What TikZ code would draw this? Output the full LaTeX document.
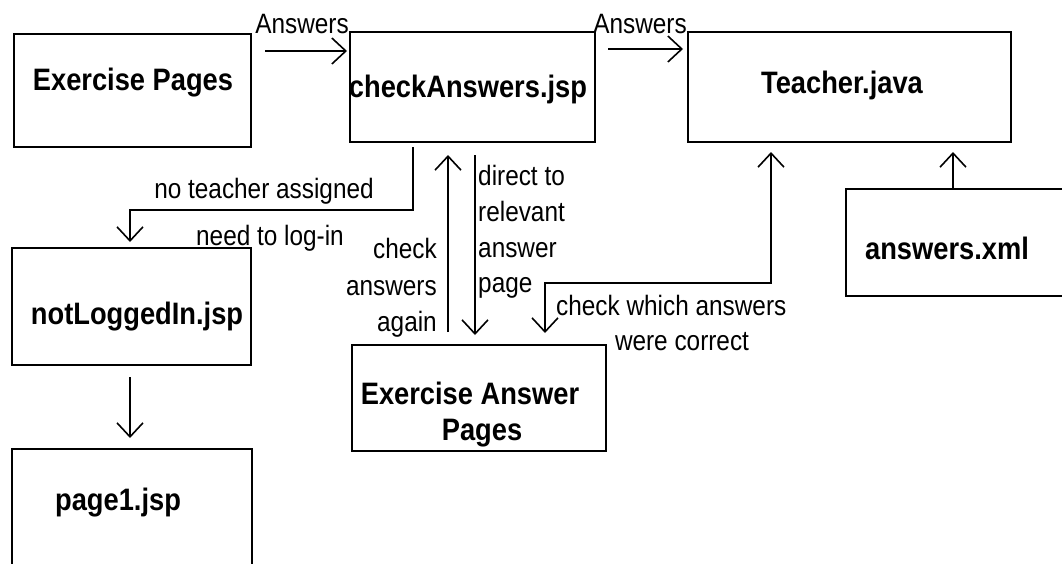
\documentclass[tikz,border=0pt]{standalone}
\usepackage{fontspec}
\setmainfont{Liberation Sans}
\newfontfamily\boxfont[FakeStretch=0.88]{Liberation Sans Bold}
\newfontfamily\labfont[FakeStretch=0.87]{Liberation Sans}
\usetikzlibrary{arrows.meta,calc}
\begin{document}
\begin{tikzpicture}[x=1pt,y=-1pt,
  box/.style={draw,line width=2pt,inner sep=0pt,anchor=north west},
  title/.style={font=\boxfont\fontsize{31}{36}\selectfont,anchor=base,inner sep=0pt},
  lab/.style={font=\labfont\fontsize{28}{34}\selectfont,inner sep=0pt},
  barb/.tip={Straight Barb[length=14pt,width=26pt,line width=1.6pt]},
  arr/.style={line width=1.6pt,-barb},
  arrboth/.style={line width=1.6pt,barb-barb}]
\useasboundingbox (0,0) rectangle (1062,563);
\clip (0,0) rectangle (1062,563);

% boxes
\node[box,minimum width=237pt,minimum height=113pt] (ep)  at (13,33)  {};
\node[box,minimum width=245pt,minimum height=110pt] (ca)  at (349,31) {};
\node[box,minimum width=323pt,minimum height=110pt] (tj)  at (687,31) {};
\node[box,minimum width=250pt,minimum height=107pt] (ax)  at (845,188) {};
\node[box,minimum width=239pt,minimum height=117pt] (nl)  at (11,247) {};
\node[box,minimum width=240pt,minimum height=160pt] (p1)  at (11,448) {};
\node[box,minimum width=254pt,minimum height=106pt] (eap) at (351,344) {};

% box titles
\node[title] (ept)  at (133,90)  {Exercise Pages};
\node[title] (cat)  at (468,97)  {checkAnswers.jsp};
\node[title] (tjt)  at (842,93)  {Teacher.java};
\node[title] (axt)  at (947,259) {answers.xml};
\node[title] (nlt)  at (137,324) {notLoggedIn.jsp};
\node[title] (p1t)  at (118,510) {page1.jsp};
\node[title] (eapa) at (470,404) {Exercise Answer};
\node[title] (eapb) at (482,440) {Pages};

% connectors
\draw[arr] ($(ep.north east)+(13,18)$) -- ($(ca.north west)+(-2,20)$);
\draw[arr] ($(ca.north east)+(12,18)$) -- ($(tj.north west)+(-4,18)$);
\draw[arr] ($(ca.south west)+(64,4)$) |- ($(nl.north west)+(119,-37)$)
           -- ($(nl.north west)+(119,-5)$);
\draw[arr] ($(eap.north west)+(97,-12)$) -- ($(ca.south west)+(99,12)$);
\draw[arr] ($(ca.south west)+(126,12)$) -- ($(eap.north west)+(124,-9)$);
\draw[arrboth] ($(eap.north west)+(194,-11)$) |- ($(tj.south west)+(84,140)$)
           -- ($(tj.south west)+(84,9)$);
\draw[arr] ($(ax.north west)+(108,0)$) -- ($(tj.south west)+(266,9)$);
\draw[arr] ($(nl.south west)+(119,11)$) -- ($(p1.north west)+(119,-10)$);

% connector labels
\node[lab,anchor=base] (l1) at (302,33) {Answers};
\node[lab,anchor=base] (l2) at (640,33) {Answers};
\node[lab,anchor=base] (l3) at (264,198) {no teacher assigned};
\node[lab,anchor=base] (l4) at (270,245) {need to log-in};
\node[lab,anchor=base east] (l5a) at (437,258) {check};
\node[lab,anchor=base east] (l5b) at (437,295) {answers};
\node[lab,anchor=base east] (l5c) at (437,331) {again};
\node[lab,anchor=base west] (l6a) at (478,185) {direct to};
\node[lab,anchor=base west] (l6b) at (478,221) {relevant};
\node[lab,anchor=base west] (l6c) at (478,257) {answer};
\node[lab,anchor=base west] (l6d) at (478,292) {page};
\node[lab,anchor=base west] (l7a) at (556,315) {check which answers};
\node[lab,anchor=base]      (l7b) at (682,350) {were correct};
\end{tikzpicture}
\end{document}
